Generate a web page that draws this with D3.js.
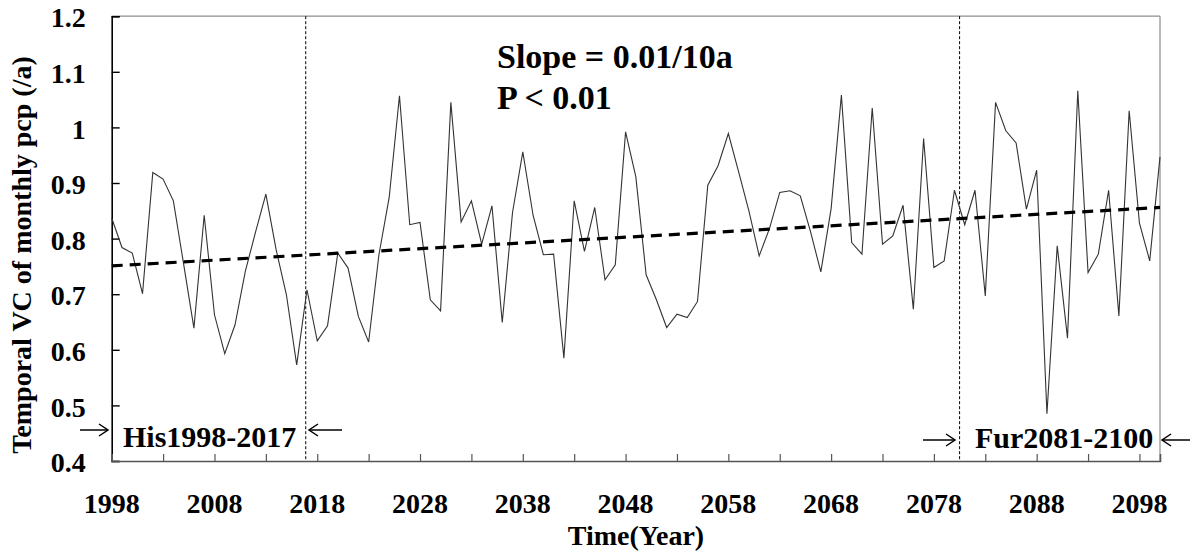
<!DOCTYPE html>
<html><head><meta charset="utf-8">
<script src="https://cdn.jsdelivr.net/npm/d3@7"></script>
<style>html,body{margin:0;padding:0;background:#fff;}svg{display:block;}</style>
</head><body><svg id="c" width="1192" height="555"></svg>
<script>
const startYear = 1998, endYear = 2100;
const years = d3.range(startYear, endYear + 1);
const values = [
 0.837,0.784,0.774,0.701,0.919,0.907,0.868,0.754,0.639,0.842,
 0.663,0.593,0.645,0.741,0.812,0.880,0.780,0.699,0.573,0.708,
 0.616,0.643,0.774,0.747,0.660,0.614,0.771,0.874,1.057,0.825,
 0.829,0.690,0.670,1.045,0.830,0.868,0.790,0.859,0.649,0.847,
 0.956,0.842,0.771,0.772,0.585,0.868,0.777,0.856,0.726,0.753,
 0.992,0.911,0.735,0.690,0.640,0.664,0.658,0.687,0.896,0.931,
 0.989,0.920,0.850,0.769,0.818,0.883,0.886,0.877,0.812,0.740,
 0.854,1.058,0.793,0.772,1.035,0.790,0.805,0.860,0.673,0.980,
 0.748,0.760,0.887,0.825,0.887,0.697,1.045,0.994,0.972,0.853,
 0.923,0.485,0.787,0.621,1.066,0.739,0.772,0.887,0.661,1.030,
 0.828,0.760,0.947];
const trendYears = [1998, 2100];
const trendValues = [0.751, 0.856];
const yTicks = [0.4,0.5,0.6,0.7,0.8,0.9,1.0,1.1,1.2];
const xLabelYears = [1998,2008,2018,2028,2038,2048,2058,2068,2078,2088,2098];
const xMinorYears = [2003,2008,2013,2018,2023,2028,2033,2038,2043,2048,2053,2058,2063,2068,2073,2078,2083,2088,2093,2098];
const periodLines = [2016.88, 2080.5];
const slopeText = ["Slope = 0.01/10a", "P < 0.01"];
const periodLabels = ["His1998-2017", "Fur2081-2100"];
const yTitle = "Temporal VC of monthly pcp (/a)";
const xTitle = "Time(Year)";

const svg = d3.select("#c");
const L = 111.7, R = 1160, T = 16.2, B = 461;
const x = d3.scaleLinear().domain([startYear, endYear]).range([L, R]);
const y = d3.scaleLinear().domain([0.4, 1.2]).range([B, T]);
const font = "'Liberation Serif','Times New Roman',serif";

// frame top/right
svg.append("line").attr("x1",L).attr("x2",R).attr("y1",T).attr("y2",T).attr("stroke","#8c8c8c").attr("stroke-width",1.2);
svg.append("line").attr("x1",R).attr("x2",R).attr("y1",T).attr("y2",B).attr("stroke","#8c8c8c").attr("stroke-width",1.2);

// y axis
const ya = svg.append("g").attr("transform",`translate(${L},0)`)
  .call(d3.axisRight(y).tickValues(yTicks).tickSize(8).tickFormat(d3.format("~g")));
ya.select(".domain").attr("stroke","#000").attr("stroke-width",1.6);
ya.selectAll(".tick line").attr("stroke","#000").attr("stroke-width",1.4);
ya.selectAll(".tick text").attr("x",-26).attr("dy","0.38em").attr("text-anchor","end")
  .attr("font-family",font).attr("font-weight","bold").attr("font-size",28).attr("fill","#000");

// x axis
const xa = svg.append("g").attr("transform",`translate(0,${B})`)
  .call(d3.axisTop(x).tickValues(xMinorYears).tickSize(7).tickFormat(""));
xa.select(".domain").attr("stroke","#555").attr("stroke-width",1.6);
xa.selectAll(".tick line").attr("stroke","#555").attr("stroke-width",1.2);
svg.append("g").selectAll("text").data(xLabelYears).join("text")
  .attr("x",d=>x(d)).attr("y",513).attr("text-anchor","middle")
  .attr("font-family",font).attr("font-weight","bold").attr("font-size",28).text(d=>d);

// period dashed lines
svg.append("g").selectAll("line").data(periodLines).join("line")
  .attr("x1",d=>x(d)).attr("x2",d=>x(d)).attr("y1",T).attr("y2",B)
  .attr("stroke","#000").attr("stroke-width",1).attr("stroke-dasharray","3,2");

// data line
const line = d3.line().x((d,i)=>x(years[i])).y(d=>y(d));
svg.append("path").datum(values).attr("d",line).attr("fill","none")
  .attr("stroke","#333").attr("stroke-width",1.1);

// trend line
svg.append("path").datum(trendValues)
  .attr("d",d3.line().x((d,i)=>x(trendYears[i])).y(d=>y(d)))
  .attr("fill","none").attr("stroke","#000").attr("stroke-width",3.2).attr("stroke-dasharray","11,7");

// slope text
svg.append("text").attr("x",497).attr("y",68).attr("font-family",font).attr("font-weight","bold").attr("font-size",34).text(slopeText[0]);
svg.append("text").attr("x",497).attr("y",109).attr("font-family",font).attr("font-weight","bold").attr("font-size",34).text(slopeText[1]);

// period labels
svg.append("text").attr("x",123).attr("y",447).attr("font-family",font).attr("font-weight","bold").attr("font-size",30).text(periodLabels[0]);
svg.append("text").attr("x",975).attr("y",448).attr("font-family",font).attr("font-weight","bold").attr("font-size",30).text(periodLabels[1]);

// arrows
function arrow(x0, x1, yy){
  const dir = Math.sign(x1 - x0);
  const g = svg.append("g").attr("stroke","#000").attr("stroke-width",1.5).attr("fill","none");
  g.append("line").attr("x1",x0).attr("x2",x1).attr("y1",yy).attr("y2",yy);
  g.append("path").attr("d",`M${x1-dir*9},${yy-6}L${x1},${yy}L${x1-dir*9},${yy+6}`);
}
arrow(80, 108, 430);
arrow(342, 309, 430);
arrow(923, 955, 440);
arrow(1190, 1162, 440);

// axis titles
svg.append("text").attr("x",636).attr("y",545).attr("text-anchor","middle")
  .attr("font-family",font).attr("font-weight","bold").attr("font-size",28).text(xTitle);
svg.append("text").attr("transform","translate(31,255) rotate(-90)").attr("text-anchor","middle")
  .attr("font-family",font).attr("font-weight","bold").attr("font-size",28).text(yTitle);
</script></body></html>
